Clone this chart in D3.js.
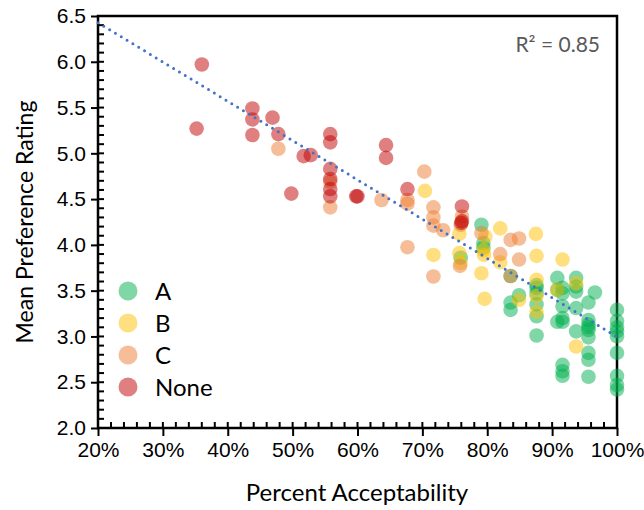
<!DOCTYPE html>
<html><head><meta charset="utf-8">
<script src="https://cdn.jsdelivr.net/npm/d3@7"></script>
<style>body{margin:0;background:#fff}svg{display:block;font-family:Lato,"Open Sans",sans-serif}</style>
</head><body><svg id="c" width="644" height="510"></svg>
<script>
const seriesNames = ["A","B","C","None"];
const seriesColors = ["#00B050","#FFC000","#ED7D31","#C00000"];
const xTicks = [0.2,0.3,0.4,0.5,0.6,0.7,0.8,0.9,1.0];
const yTicks = [2.0,2.5,3.0,3.5,4.0,4.5,5.0,5.5,6.0,6.5];
const trendIntercept = 6.427, trendSlope = -4.29; // y = b + m*(x-0.2)
const r2Label = "R² = 0.85";
// [percent acceptability, mean preference]
const dataNone = [[35.2,5.27],[36.0,5.97],[43.8,5.49],[43.8,5.37],[43.8,5.20],[46.9,5.39],[47.8,5.21],[49.8,4.56],[51.7,4.97],[52.8,4.98],[55.8,5.21],[55.8,5.12],[55.8,4.83],[55.8,4.72],[55.8,4.61],[55.8,4.53],[59.8,4.53],[60.0,4.53],[64.4,5.09],[64.4,4.95],[67.7,4.61],[76.1,4.42],[76.1,4.26],[76.0,4.24]];
const dataC = [[47.8,5.05],[55.8,4.69],[55.8,4.41],[63.7,4.49],[67.7,4.49],[67.7,4.45],[67.7,3.975],[70.3,4.80],[71.7,4.41],[71.7,4.30],[71.7,4.21],[71.7,3.655],[73.2,4.16],[76.1,4.31],[75.9,4.22],[75.8,3.77],[79.1,4.13],[82.0,3.90],[83.6,4.055],[84.9,4.07],[84.9,3.84],[83.6,3.66]];
const dataB = [[70.4,4.59],[71.7,3.89],[75.7,4.12],[75.7,3.91],[75.9,3.80],[79.7,4.09],[79.4,3.94],[79.5,3.89],[79.1,3.69],[79.6,3.41],[82.0,4.18],[82.0,3.81],[84.9,3.40],[87.5,4.12],[87.6,3.88],[87.6,3.62],[87.6,3.44],[87.6,3.27],[91.6,3.84],[90.8,3.51],[93.7,3.58],[93.7,2.89]];
const dataA = [[75.9,3.86],[79.1,4.22],[79.4,4.02],[79.4,3.97],[83.6,3.66],[83.6,3.37],[83.6,3.29],[84.9,3.45],[87.6,3.56],[87.6,3.53],[87.6,3.47],[87.6,3.35],[87.6,3.22],[87.6,3.01],[90.8,3.64],[90.8,3.51],[91.6,3.53],[91.6,3.47],[91.6,3.33],[91.6,3.20],[91.6,3.16],[90.8,3.16],[91.6,2.69],[91.6,2.62],[91.6,2.57],[93.7,3.64],[93.7,3.545],[93.7,3.49],[93.7,3.31],[93.7,3.055],[96.6,3.48],[95.6,3.37],[95.6,3.18],[95.6,3.13],[95.6,3.07],[95.6,2.99],[95.6,2.82],[95.6,2.745],[95.6,2.56],[95.6,3.10],[100,3.29],[100,3.17],[100,3.10],[100,3.055],[100,3.00],[100,2.82],[100,2.57],[100,2.47],[100,2.42]];
const allSeries = [dataA, dataB, dataC, dataNone];

const svg = d3.select("#c");
const L=98, R=617, T=16, B=428;
const x = d3.scaleLinear().domain([0.2,1.0]).range([L,R]);
const y = d3.scaleLinear().domain([2.0,6.5]).range([B,T]);

const xMinor = d3.range(0.2,1.0001,0.02).filter(v=>Math.abs(v*10-Math.round(v*10))>1e-6);
const yMinor = d3.range(2.0,6.5001,0.1).filter(v=>Math.abs(v*2-Math.round(v*2))>1e-6);

const gx = svg.append("g").attr("transform",`translate(0,${B})`)
  .call(d3.axisBottom(x).tickValues(xTicks).tickFormat(d3.format(".0%")).tickSize(8).tickPadding(6));
gx.select(".domain").remove();
gx.selectAll(".tick line").attr("stroke","#000").attr("stroke-width",2);
gx.selectAll("text").attr("font-size",21).attr("fill","#000");
svg.append("g").attr("transform",`translate(0,${B})`).selectAll("line").data(xMinor.concat(xTicks)).join("line")
  .attr("x1",d=>x(d)).attr("x2",d=>x(d)).attr("y1",0).attr("y2",-6).attr("stroke","#000").attr("stroke-width",2);

const gy = svg.append("g").attr("transform",`translate(${L},0)`)
  .call(d3.axisLeft(y).tickValues(yTicks).tickFormat(d3.format(".1f")).tickSize(7).tickPadding(5));
gy.select(".domain").remove();
gy.selectAll(".tick line").attr("stroke","#000").attr("stroke-width",2);
gy.selectAll("text").attr("font-size",21).attr("fill","#000");
svg.append("g").attr("transform",`translate(${L},0)`).selectAll("line").data(yMinor.concat(yTicks)).join("line")
  .attr("y1",d=>y(d)).attr("y2",d=>y(d)).attr("x1",0).attr("x2",6).attr("stroke","#000").attr("stroke-width",2);

svg.append("rect").attr("x",L).attr("y",T).attr("width",R-L).attr("height",B-T)
  .attr("fill","none").attr("stroke","#000").attr("stroke-width",2.5);

const plot = svg.append("g");
allSeries.forEach((data,i)=>{
  plot.append("g").selectAll("circle").data(data).join("circle")
    .attr("cx",d=>x(d[0]/100)).attr("cy",d=>y(d[1])).attr("r",7.3)
    .attr("fill",seriesColors[i]).attr("fill-opacity",0.5);
});

const tl = d3.line().x(d=>x(d)).y(d=>y(trendIntercept+trendSlope*(d-0.2)));
svg.append("path").attr("d",tl([0.2,1.0])).attr("fill","none").attr("stroke","#4472C4")
  .attr("stroke-width",3).attr("stroke-linecap","round").attr("stroke-dasharray","0 6.8");

svg.append("text").attr("x",600).attr("y",52).attr("text-anchor","end").attr("font-size",21)
  .attr("fill","#595959").text(r2Label);

const lg = svg.append("g");
seriesNames.forEach((n,i)=>{
  const cy = 291 + i*32;
  lg.append("circle").attr("cx",128).attr("cy",cy).attr("r",9.5).attr("fill",seriesColors[i]).attr("fill-opacity",0.5);
  lg.append("text").attr("x",155).attr("y",cy+8.5).attr("font-size",24).attr("fill","#000").text(n);
});

svg.append("text").attr("transform","translate(33,222) rotate(-90)").attr("text-anchor","middle")
  .attr("font-size",23).attr("fill","#000").text("Mean Preference Rating");
svg.append("text").attr("x",357).attr("y",501).attr("text-anchor","middle")
  .attr("font-size",24).attr("fill","#000").text("Percent Acceptability");
</script></body></html>
